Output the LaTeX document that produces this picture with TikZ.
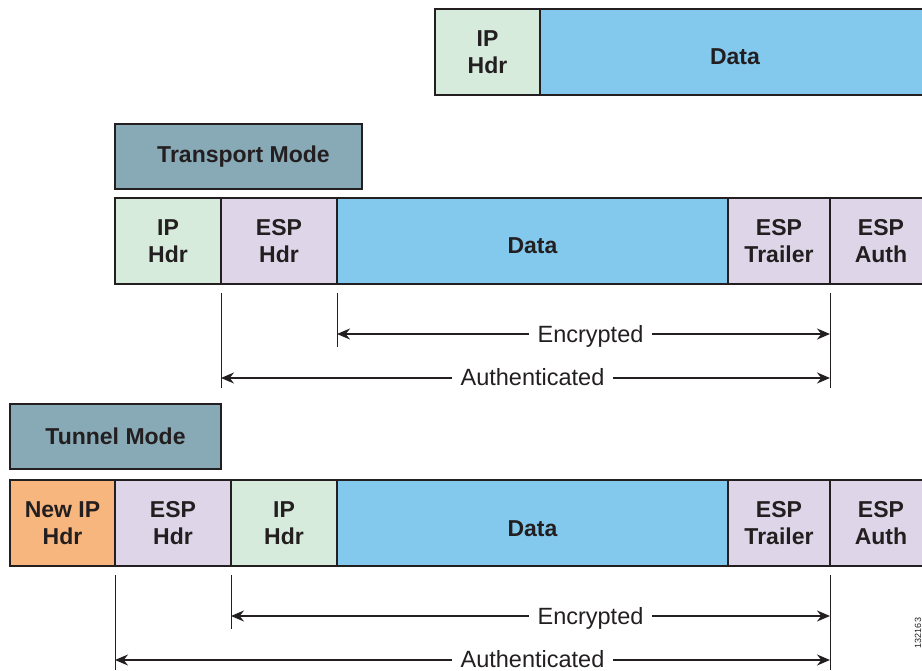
\documentclass[tikz,border=0pt]{standalone}
\usepackage{fontspec}
\setmainfont{Liberation Sans}
\usetikzlibrary{positioning, arrows.meta}
\definecolor{iphdr}{HTML}{D7EBDC}
\definecolor{esphdr}{HTML}{DED6E8}
\definecolor{datablue}{HTML}{83C8ED}
\definecolor{newip}{HTML}{F8B67F}
\definecolor{modebox}{HTML}{88AAB6}
\definecolor{ink}{HTML}{231F20}
\tikzset{
x=1pt, y=-1pt, % one unit is one pixel of the page, y runs down
field/.style={draw=ink, line width=1.2pt, outer sep=0pt, inner sep=0pt, minimum height=86pt, align=center, text=ink, font=\bfseries\fontsize{23}{26.5}\selectfont},
mode/.style={field, fill=modebox, minimum height=65pt},
tick/.style={draw=ink, line width=0.8pt},
span/.style={draw=ink, line width=1.2pt, {Stealth[length=13pt,width=11pt]}-{Stealth[length=13pt,width=11pt]}},
spanlabel/.style={fill=white, anchor=base, inner xsep=9pt, inner ysep=2pt, text=ink, font=\fontsize{23.5}{27}\selectfont},
}
\newcommand{\lowdata}{\raisebox{-13pt}[0pt][0pt]{Data}}
\begin{document}
\begin{tikzpicture}
    \useasboundingbox (0,0) rectangle (922,671);
    % original packet
    \node[field, fill=iphdr, minimum width=105pt, anchor=north west] (ipA) at (435,9) {IP\\Hdr};
    \node[field, fill=datablue, minimum width=390pt, right=0pt of ipA] (dataA) {\lowdata};
    % transport mode
    \node[mode, minimum width=247pt, anchor=north west] (tmode) at (115,124) {\hspace*{10pt}Transport Mode};
    \node[field, fill=iphdr, minimum width=106pt, anchor=north west] (tip) at (115,198) {IP\\Hdr};
    \node[field, fill=esphdr, minimum width=116pt, right=0pt of tip] (tesp) {ESP\\Hdr};
    \node[field, fill=datablue, minimum width=391pt, right=0pt of tesp] (tdata) {\lowdata};
    \node[field, fill=esphdr, minimum width=102pt, right=0pt of tdata] (ttrl) {ESP\\Trailer};
    \node[field, fill=esphdr, minimum width=102pt, right=0pt of ttrl] (tauth) {ESP\\Auth};
    % tunnel mode
    \node[mode, minimum width=211pt, anchor=north west] (umode) at (10,404) {Tunnel Mode};
    \node[field, fill=newip, minimum width=105pt, anchor=north west] (unew) at (10,480) {New IP\\Hdr};
    \node[field, fill=esphdr, minimum width=116pt, right=0pt of unew] (uesp) {ESP\\Hdr};
    \node[field, fill=iphdr, minimum width=106pt, right=0pt of uesp] (uip) {IP\\Hdr};
    \node[field, fill=datablue, minimum width=391pt, right=0pt of uip] (udata) {\lowdata};
    \node[field, fill=esphdr, minimum width=102pt, right=0pt of udata] (utrl) {ESP\\Trailer};
    \node[field, fill=esphdr, minimum width=102pt, right=0pt of utrl] (uauth) {ESP\\Auth};
    % encrypted and authenticated spans
    \foreach \a/\e/\d/\z in {tesp/tdata/tdata/tauth, uesp/uip/udata/uauth} {
        \draw[tick] ([yshift=-9pt]\a.south west) -- ([yshift=-104pt]\a.south west);
        \draw[tick] ([yshift=-9pt]\e.south west) -- ([yshift=-63pt]\e.south west);
        \draw[tick] ([yshift=-9pt]\z.south west) -- ([yshift=-104pt]\z.south west);
        \draw[span] ([yshift=-50pt]\e.south west) -- ([yshift=-50pt]\z.south west);
        \node[spanlabel] at ([xshift=58pt,yshift=-58pt]\d.south) {Encrypted};
        \draw[span] ([yshift=-94pt]\a.south west) -- ([yshift=-94pt]\z.south west);
        \node[spanlabel] at ([yshift=-101.5pt]\d.south) {Authenticated};
    }
    \node[rotate=90, anchor=base, text=ink, font=\fontsize{9}{11}\selectfont] (figid) at (921,633) {132163};
\end{tikzpicture}
\end{document}
